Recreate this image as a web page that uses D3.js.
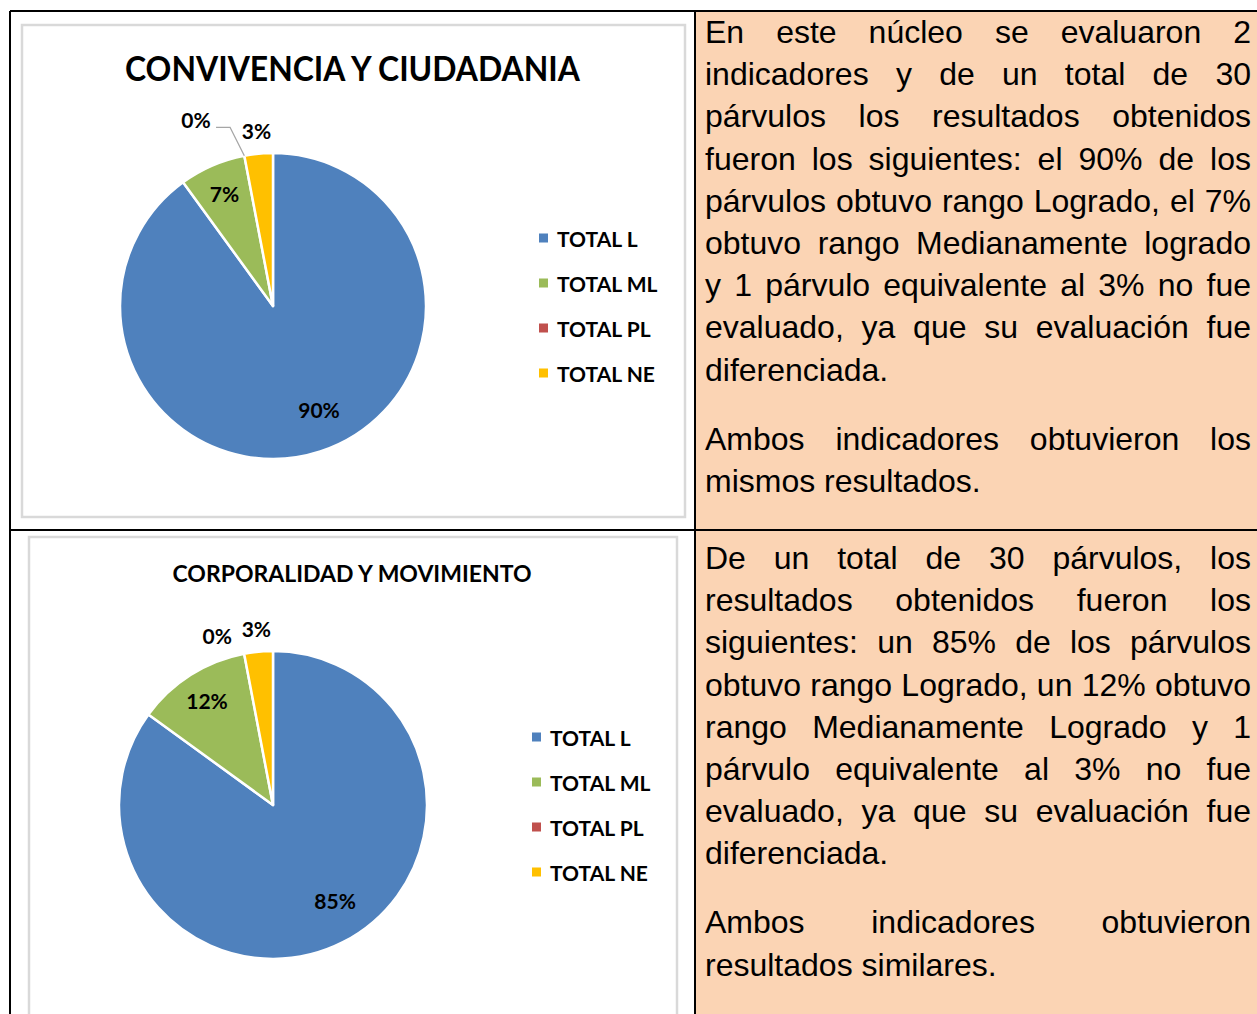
<!DOCTYPE html>
<html>
<head>
<meta charset="utf-8">
<script src="https://cdn.jsdelivr.net/npm/d3@7"></script>
<style>
  html, body { margin: 0; padding: 0; background: #fff; }
  svg { display: block; }
</style>
</head>
<body>
<svg id="svg1" width="1257" height="1014"></svg>
<script>
const svg1 = d3.select('#svg1');

// data
const categories = ['TOTAL L', 'TOTAL ML', 'TOTAL PL', 'TOTAL NE'];
const convivenciaValues = [90, 7, 0, 3];
const corporalidadValues = [85, 12, 0, 3];
const sliceColours = ['#4F81BD', '#9BBB59', '#C0504D', '#FFC000'];

const convivenciaText = [
  ['En este núcleo se evaluaron 2',
   'indicadores y de un total de 30',
   'párvulos los resultados obtenidos',
   'fueron los siguientes: el 90% de los',
   'párvulos obtuvo rango Logrado, el 7%',
   'obtuvo rango Medianamente logrado',
   'y 1 párvulo equivalente al 3% no fue',
   'evaluado, ya que su evaluación fue',
   'diferenciada.'],
  ['Ambos indicadores obtuvieron los',
   'mismos resultados.']
];
const corporalidadText = [
  ['De un total de 30 párvulos, los',
   'resultados obtenidos fueron los',
   'siguientes: un 85% de los párvulos',
   'obtuvo rango Logrado, un 12% obtuvo',
   'rango Medianamente Logrado y 1',
   'párvulo equivalente al 3% no fue',
   'evaluado, ya que su evaluación fue',
   'diferenciada.'],
  ['Ambos indicadores obtuvieron',
   'resultados similares.']
];

const chartFont = 'Lato, "Open Sans", sans-serif';
const bodyFont = '"Liberation Sans", Arial, sans-serif';

// table frame
const colX = 695, rowY = 530, tableLeft = 10, tableTop = 11;
svg1.append('rect').attr('x', colX).attr('y', tableTop).attr('width', 1257 - colX).attr('height', 1014 - tableTop)
  .attr('fill', '#FBD4B4');
const frame = svg1.append('g').attr('stroke', '#000').attr('stroke-width', 1.3).attr('shape-rendering', 'crispEdges');
frame.append('line').attr('x1', tableLeft).attr('x2', 1257).attr('y1', tableTop).attr('y2', tableTop);
frame.append('line').attr('x1', tableLeft).attr('x2', 1257).attr('y1', rowY).attr('y2', rowY);
frame.append('line').attr('x1', tableLeft).attr('x2', tableLeft).attr('y1', tableTop).attr('y2', 1014);
frame.append('line').attr('x1', colX).attr('x2', colX).attr('y1', tableTop).attr('y2', 1014);

const charts = [
  { values: convivenciaValues, title: 'CONVIVENCIA Y CIUDADANIA',
    box: { x: 22, y: 25, w: 663, h: 492 }, titleY: 81, titleSize: 34, titleWidth: 455,
    cx: 273, cy: 306, r: 153,
    legendX: 539, legendY: 238,
    zero: { angle: -11.6, radius: 1.32, leader: true } },
  { values: corporalidadValues, title: 'CORPORALIDAD Y MOVIMIENTO',
    box: { x: 29, y: 537, w: 648, h: 500 }, titleY: 582, titleSize: 22, titleWidth: 359,
    cx: 273, cy: 805, r: 154,
    legendX: 532, legendY: 737,
    zero: { angle: -7.4, radius: 1.16, leader: false } }
];

const toRad = deg => deg * Math.PI / 180;

const render = c => {
  svg1.append('rect')
    .attr('x', c.box.x).attr('y', c.box.y).attr('width', c.box.w).attr('height', c.box.h)
    .attr('fill', '#fff').attr('stroke', '#D9D9D9').attr('stroke-width', 2.5);

  svg1.append('text')
    .attr('x', c.box.x + c.box.w / 2 - 1).attr('y', c.titleY)
    .attr('text-anchor', 'middle')
    .attr('font-family', chartFont).attr('font-weight', 'bold').attr('font-size', c.titleSize)
    .attr('textLength', c.titleWidth).attr('lengthAdjust', 'spacingAndGlyphs')
    .text(c.title);

  const data = categories.map((name, i) => ({ name, value: c.values[i], colour: sliceColours[i] }));
  const pie = d3.pie().sort(null).value(d => d.value);
  const arcs = pie(data);
  const arc = d3.arc().innerRadius(0).outerRadius(c.r);

  const g = svg1.append('g').attr('transform', `translate(${c.cx},${c.cy})`);
  g.selectAll('path').data(arcs.filter(d => d.data.value > 0))
    .enter().append('path')
    .attr('d', arc)
    .attr('fill', d => d.data.colour)
    .attr('stroke', '#fff').attr('stroke-width', 2.5).attr('stroke-linejoin', 'round');

  arcs.forEach(d => {
    const mid = (d.startAngle + d.endAngle) / 2;
    let a = mid, rr;
    if (d.data.value === 0) { a = d.startAngle + toRad(c.zero.angle); rr = c.zero.radius * c.r; }
    else if (d.data.value < 5) rr = 1.15 * c.r;
    else if (d.data.value > 50) { a = mid - toRad(6); rr = 0.74 * c.r; }
    else rr = 0.8 * c.r;
    const lx = rr * Math.sin(a), ly = -rr * Math.cos(a);
    g.append('text')
      .attr('x', lx).attr('y', ly)
      .attr('text-anchor', 'middle').attr('dominant-baseline', 'central')
      .attr('font-family', chartFont).attr('font-weight', 'bold').attr('font-size', 21)
      .attr('fill', '#000')
      .text(d.data.value + '%');
    if (d.data.value === 0 && c.zero.leader) {
      const ex = c.r * Math.sin(d.startAngle), ey = -c.r * Math.cos(d.startAngle);
      g.append('path')
        .attr('d', d3.line()([[lx + 20, ly + 8], [lx + 34, ly + 8], [ex, ey]]))
        .attr('fill', 'none').attr('stroke', '#A6A6A6').attr('stroke-width', 1.3);
    }
  });

  const legend = svg1.append('g').attr('transform', `translate(${c.legendX},${c.legendY})`);
  const items = legend.selectAll('g').data(data).enter().append('g')
    .attr('transform', (d, i) => `translate(0,${i * 45})`);
  items.append('rect').attr('x', 0).attr('y', -4.5).attr('width', 9).attr('height', 9)
    .attr('fill', d => d.colour);
  items.append('text').attr('x', 18).attr('y', 0).attr('dominant-baseline', 'central')
    .attr('font-family', chartFont).attr('font-weight', 'bold').attr('font-size', 21)
    .text(d => d.name);
};

charts.forEach(render);

// justified paragraphs in the right column
const textX = 705, textRight = 1251, lineGap = 42.2, paraGap = 69;
const drawParagraphs = (paragraphs, firstBaseline) => {
  let y = firstBaseline;
  paragraphs.forEach((lines, p) => {
    if (p > 0) y += paraGap - lineGap;
    lines.forEach((line, li) => {
      const words = line.split(' ');
      const t = svg1.append('text')
        .attr('font-family', bodyFont).attr('font-size', 32).attr('fill', '#000')
        .attr('y', y);
      const spans = words.map(w => t.append('tspan').text(w));
      const widths = spans.map(s => s.node().getComputedTextLength());
      const spaceW = 32 * 0.278;
      const last = li === lines.length - 1;
      const total = d3.sum(widths);
      const gap = (last || words.length < 2) ? spaceW : (textRight - textX - total) / (words.length - 1);
      let x = textX;
      spans.forEach((s, i) => { s.attr('x', x); x += widths[i] + gap; });
      y += lineGap;
    });
  });
};

drawParagraphs(convivenciaText, 43);
drawParagraphs(corporalidadText, 569);
</script>
</body>
</html>
